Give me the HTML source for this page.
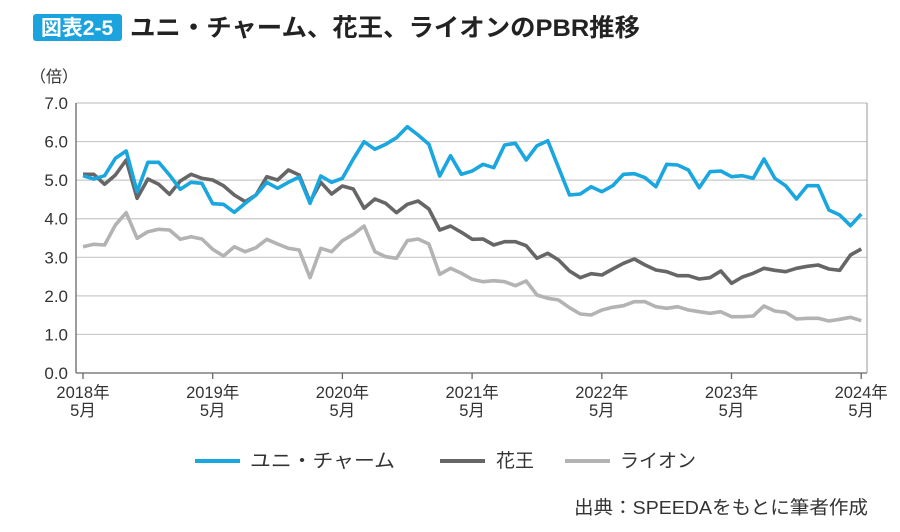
<!DOCTYPE html>
<html><head><meta charset="utf-8"><style>
body{margin:0;background:#fff;}
svg text{font-family:"Liberation Sans","Noto Sans CJK JP",sans-serif;}
</style></head><body>
<svg id="s" width="900" height="527" xmlns="http://www.w3.org/2000/svg">
<rect x="33" y="14" width="89" height="27" rx="3" fill="#1aa3dc"/>
<text x="77" y="35" font-size="21" font-weight="bold" fill="#fff" text-anchor="middle">図表2-5</text>
<text x="130" y="36" font-size="24.5" font-weight="bold" fill="#222" textLength="510" lengthAdjust="spacingAndGlyphs">ユニ・チャーム、花王、ライオンのPBR推移</text>
<text x="30" y="82" font-size="16" fill="#333">（倍）</text>
<g id="grid" stroke="#c8c8c8" stroke-width="1.2"></g>
<g id="yl" font-size="17" fill="#333" text-anchor="end"></g>
<g id="xl" font-size="16.5" fill="#333" text-anchor="middle"></g>
<line x1="76" y1="103" x2="76" y2="373" stroke="#666" stroke-width="1.3"/>
<line x1="76" y1="373" x2="867" y2="373" stroke="#666" stroke-width="1.3"/>
<line x1="867" y1="103" x2="867" y2="373" stroke="#999" stroke-width="1"/>
<g id="lines" fill="none" stroke-width="3.6" stroke-linejoin="round"></g>
<line x1="195" y1="461" x2="240" y2="461" stroke="#1aa6df" stroke-width="4"/>
<text x="250" y="467" font-size="19" fill="#333" textLength="145" lengthAdjust="spacingAndGlyphs">ユニ・チャーム</text>
<line x1="440" y1="461" x2="485" y2="461" stroke="#666" stroke-width="4"/>
<text x="496" y="467" font-size="19" fill="#333">花王</text>
<line x1="565" y1="461" x2="610" y2="461" stroke="#b3b3b3" stroke-width="4"/>
<text x="620" y="467" font-size="19" fill="#333">ライオン</text>
<text x="868" y="514" font-size="18.5" fill="#333" text-anchor="end" textLength="294" lengthAdjust="spacingAndGlyphs">出典：SPEEDAをもとに筆者作成</text>
</svg>
<script>
var NS="http://www.w3.org/2000/svg";
function el(t,a,p,txt){var e=document.createElementNS(NS,t);for(var k in a)e.setAttribute(k,a[k]);if(txt)e.textContent=txt;document.getElementById(p).appendChild(e);}
for(var v=0;v<=7;v++){var y=373-v*38.57;
 if(v>0)el("line",{x1:76,x2:867,y1:y,y2:y},"grid");
 el("text",{x:68,y:y+6},"yl",v+".0");}
for(var j=0;j<7;j++){var x=83+129.7*j;
 el("line",{x1:x,x2:x,y1:373,y2:379,stroke:"#666","stroke-width":1.3},"grid");
 el("text",{x:x,y:398},"xl",(2018+j)+"年");
 el("text",{x:x,y:416},"xl","5月");}
var blue1=[242,252,242,190,168,290,202,202,240,283,262,265,326,328,352,325,300,262,280,262,246,325,243,262,250,192,140,163,148,128,95,120,148,243,182,238];
var blue2=[228,208,218,150,145,195,152,137,218,300,297,275,290,272,238,236,248,275,208,210,225,278,230,228,245,242,250,192,250,272,312,272,272,345,360,392,357];
var dk1=[238,238,268,240,195,310,252,268,298,258,238,250,255,272,300,320,300,245,255,225,240,320,262,297,273,282,340,312,325,353,328,318,342,405,393,412];
var dk2=[433,432,450,440,440,452,490,475,495,528,548,536,540,522,505,492,510,525,530,542,542,552,548,528,565,546,535,520,526,530,520,514,510,522,526,480,462];
var lt1=[455,448,450,390,353,430,410,403,405,433,425,432,463,483,455,470,458,433,447,460,465,548,460,470,437,418,393,470,485,490,437,432,447,538,520,535];
var lt2=[553,560,557,560,572,558,600,610,615,638,657,660,645,637,632,620,620,635,640,635,645,650,655,650,665,665,663,633,648,652,672,670,670,678,673,667,677];
function pts(a,b){var r=a.concat(b),s="";for(var i=0;i<r.length;i++){s+=(83+10.81*i).toFixed(1)+","+(95+r[i]/3).toFixed(1)+" ";}return s;}
el("polyline",{points:pts(lt1,lt2),stroke:"#b3b3b3"},"lines");
el("polyline",{points:pts(dk1,dk2),stroke:"#666"},"lines");
el("polyline",{points:pts(blue1,blue2),stroke:"#1aa6df"},"lines");
</script>
</body></html>
